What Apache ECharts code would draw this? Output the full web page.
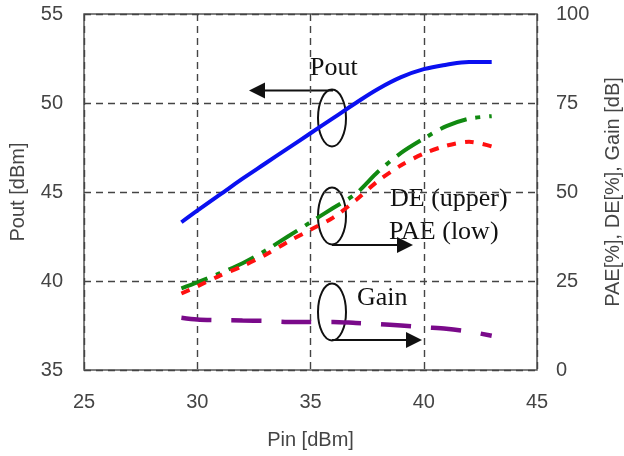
<!DOCTYPE html>
<html>
<head>
<meta charset="utf-8">
<script src="https://cdn.jsdelivr.net/npm/echarts@6/dist/echarts.min.js"></script>
<style>
  html, body { margin: 0; padding: 0; background: #fff; }
  #chart { width: 624px; height: 456px; }
</style>
</head>
<body>
<div id="chart"></div>
<script>
// data
var pin   = [29.3, 30, 31, 32, 33, 34, 35, 36, 37, 38, 39, 40, 41, 42, 43];
var pout  = [43.3, 43.95, 44.85, 45.75, 46.6, 47.45, 48.3, 49.15, 50.0, 50.8, 51.45, 51.9, 52.15, 52.3, 52.3];
var de    = [22.9, 24.6, 27.2, 30.0, 33.5, 37.5, 41.5, 45.5, 49.5, 55.8, 61.0, 65.0, 68.5, 70.6, 71.3];
var pae   = [21.5, 23.5, 26.5, 29.2, 32.3, 36.0, 39.4, 42.8, 47.7, 53.2, 57.5, 60.8, 63.0, 64.1, 62.8];
var gain  = [14.7, 14.2, 14.0, 13.9, 13.8, 13.5, 13.5, 13.5, 13.2, 12.9, 12.5, 12.0, 11.6, 10.8, 9.6];

function pairs(ys) {
    return pin.map(function (x, i) { return [x, ys[i]]; });
}

var labelFont = {
    color: '#444',
    fontSize: 20,
    fontFamily: 'Liberation Sans'
};
var serif = '26px "Liberation Serif"';

var gridLine = {
    show: true,
    lineStyle: { color: '#444', width: 1.4, type: [7, 5] }
};

// callout: ellipse + arrow
function arrow(x1, x2, y) {
    var dir = x2 > x1 ? 1 : -1;
    var base = x2 - dir * 16;
    return [
        { type: 'line', shape: { x1: x1, y1: y, x2: base, y2: y },
          style: { stroke: '#111', lineWidth: 2 } },
        { type: 'polygon', shape: { points: [[x2, y], [base, y - 8], [base, y + 8]] },
          style: { fill: '#111' } }
    ];
}
function oval(cx, cy) {
    return { type: 'ellipse', shape: { cx: cx, cy: cy, rx: 14, ry: 28.5 },
             style: { fill: 'none', stroke: '#111', lineWidth: 2 } };
}
function note(x, y, t) {
    return { type: 'text', style: { x: x, y: y, text: t, font: serif, fill: '#111',
             verticalAlign: 'middle' } };
}

var graphics = [].concat(
    [oval(332, 118)], arrow(333, 249, 90.5), [note(310, 68, 'Pout')],
    [oval(332, 216)], arrow(332, 413, 245), [note(390, 199, 'DE (upper)'), note(389, 232, 'PAE (low)')],
    [oval(332, 312)], arrow(332, 422, 340), [note(357, 298, 'Gain')]
);

var myChart = echarts.init(document.getElementById('chart'));

var option = {
    animation: false,
    grid: {
        left: 84, right: 87, top: 14, bottom: 86,
        show: true, borderColor: '#555', borderWidth: 1.5,
        outerBoundsMode: 'none'
    },
    xAxis: {
        type: 'value',
        min: 25, max: 45, interval: 5,
        name: 'Pin [dBm]',
        nameLocation: 'middle',
        nameGap: 60,
        nameTextStyle: { color: '#444', fontSize: 20, fontFamily: 'Liberation Sans' },
        axisLine: { show: false },
        axisTick: { show: false },
        axisLabel: Object.assign({ margin: 22 }, labelFont),
        splitLine: gridLine
    },
    yAxis: [{
        type: 'value',
        min: 35, max: 55, interval: 5,
        name: 'Pout [dBm]',
        nameLocation: 'middle',
        nameGap: 56,
        nameTextStyle: { color: '#444', fontSize: 20, fontFamily: 'Liberation Sans' },
        axisLine: { show: false },
        axisTick: { show: false },
        axisLabel: Object.assign({ margin: 21 }, labelFont),
        splitLine: gridLine
    }, {
        type: 'value',
        min: 0, max: 100, interval: 25,
        position: 'right',
        name: 'PAE[%], DE[%], Gain [dB]',
        nameLocation: 'middle',
        nameGap: 66,
        nameTextStyle: { color: '#444', fontSize: 20, fontFamily: 'Liberation Sans' },
        axisLine: { show: false },
        axisTick: { show: false },
        axisLabel: Object.assign({ margin: 19 }, labelFont),
        splitLine: { show: false }
    }],
    series: [{
        name: 'Pout',
        type: 'line',
        smooth: 0.4,
        showSymbol: false,
        data: pairs(pout),
        lineStyle: { color: '#0a10f0', width: 4 }
    }, {
        name: 'DE',
        type: 'line',
        yAxisIndex: 1,
        smooth: 0.3,
        showSymbol: false,
        data: pairs(de),
        lineStyle: { color: '#118a11', width: 4, type: [28, 9, 5, 9] }
    }, {
        name: 'PAE',
        type: 'line',
        yAxisIndex: 1,
        smooth: 0.3,
        showSymbol: false,
        data: pairs(pae),
        lineStyle: { color: '#ff1010', width: 4, type: [9, 9] }
    }, {
        name: 'Gain',
        type: 'line',
        yAxisIndex: 1,
        smooth: 0.3,
        showSymbol: false,
        data: pairs(gain),
        lineStyle: { color: '#7a0a8a', width: 4.5, type: [30, 20] }
    }],
    graphic: graphics
};

myChart.setOption(option);
</script>
</body>
</html>
